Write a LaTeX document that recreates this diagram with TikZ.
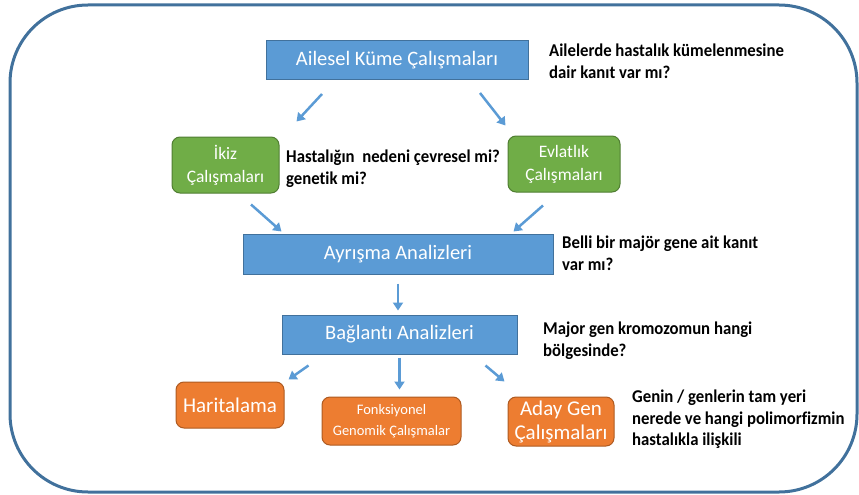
\documentclass[tikz,border=0pt]{standalone}
\usepackage{fontspec}
\setmainfont[Ligatures=CommonOff]{Carlito}
\newfontfamily\notefont[Ligatures=CommonOff, FakeStretch=0.93]{Carlito}
\usetikzlibrary{arrows.meta}
\usetikzlibrary{calc}
\definecolor{boxblue}{HTML}{5B9BD5}
\definecolor{lineblue}{HTML}{41719C}
\definecolor{framblue}{HTML}{41719C}
\definecolor{boxgreen}{HTML}{70AD47}
\definecolor{linegreen}{HTML}{507E32}
\definecolor{boxorange}{HTML}{ED7D31}
\definecolor{lineorange}{HTML}{AE5A21}
\tikzstyle{box}=[draw, inner sep=0pt, text=white, align=center, line width=1pt]
\tikzstyle{bbox}=[box, fill=boxblue, draw=lineblue, font=\fontsize{20.5}{24}\selectfont]
\tikzstyle{gbox}=[box, fill=boxgreen, draw=linegreen, rounded corners=8pt, font=\fontsize{17.5}{23}\selectfont]
\tikzstyle{obox}=[box, fill=boxorange, draw=lineorange, rounded corners=8pt]
\tikzstyle{note}=[anchor=north west, align=left, inner sep=0pt, font=\notefont\bfseries\fontsize{18}{21.5}\selectfont]
\tikzstyle{arr}=[-{Triangle[length=8pt,width=10pt]}, draw=boxblue, line width=2.5pt]

\begin{document}
\begin{tikzpicture}[x=1pt, y=-1pt]
        \useasboundingbox (0,0) rectangle (859,495);
        \draw[framblue, line width=3pt, rounded corners=78pt] (10,5) rectangle (857,492);
        \node[bbox, minimum width=262pt, minimum height=39pt] (aile)   at (397, 60)    {Ailesel Küme Çalışmaları};
        \node[gbox, minimum width=107pt, minimum height=56pt] (ikiz)   at (225.5, 165) {İkiz\\Çalışmaları};
        \node[gbox, minimum width=112pt, minimum height=56pt] (evlat)  at (564, 164)   {Evlatlık\\Çalışmaları};
        \node[bbox, minimum width=310pt, minimum height=40pt] (ayr)    at (398, 254)   {Ayrışma Analizleri};
        \node[bbox, minimum width=235pt, minimum height=39pt] (bag)    at (399.5, 334.5) {Bağlantı Analizleri};
        \node[obox, minimum width=108pt, minimum height=46pt, font=\fontsize{21}{24}\selectfont] (harita) at (230, 405) {Haritalama};
        \node[obox, minimum width=139pt, minimum height=48pt, font=\fontsize{14.5}{21}\selectfont] (fonk) at (391.5, 421) {Fonksiyonel\\Genomik Çalışmalar};
        \node[obox, minimum width=106pt, minimum height=49pt, font=\fontsize{21}{24}\selectfont] (aday) at (561, 421.5) {Aday Gen\\Çalışmaları};
        \node[note] (q1) at (549, 44)  {Ailelerde hastalık kümelenmesine\\dair kanıt var mı?};
        \node[note] (q2) at (286, 150) {Hastalığın\ \ nedeni çevresel mi?\\genetik mi?};
        \node[note] (q3) at (562, 236) {Belli bir majör gene ait kanıt\\var mı?};
        \node[note] (q4) at (543, 322) {Major gen kromozomun hangi\\bölgesinde?};
        \node[note] (q5) at (632, 390) {Genin / genlerin tam yeri\\nerede ve hangi polimorfizmin\\hastalıkla ilişkili};
        \draw[arr] ($(aile.south)+(-75,14)$) -- ($(ikiz.north east)+(17,-15)$);
        \draw[arr] ($(aile.south)+(83,13)$) -- ($(evlat.north west)+(-2,-10)$);
        \draw[arr] ($(ikiz.south)+(25.5,11)$) -- ($(ayr.north west)+(39,-2)$);
        \draw[arr] ($(evlat.south)+(-21,13)$) -- ($(ayr.north east)+(-40,-2)$);
        \draw[arr, shorten <=9pt, shorten >=4pt] (ayr.south) -- (ayr.south |- bag.north);
        \draw[arr] ($(bag.south west)+(27,11)$) -- ($(harita.north east)+(4,-2)$);
        \draw[arr, shorten <=3pt, shorten >=7pt] (bag.south) -- (bag.south |- fonk.north);
        \draw[arr] ($(bag.south east)+(-32,11)$) -- ($(aday.north west)+(-3,-15)$);
    \end{tikzpicture}
\end{document}
